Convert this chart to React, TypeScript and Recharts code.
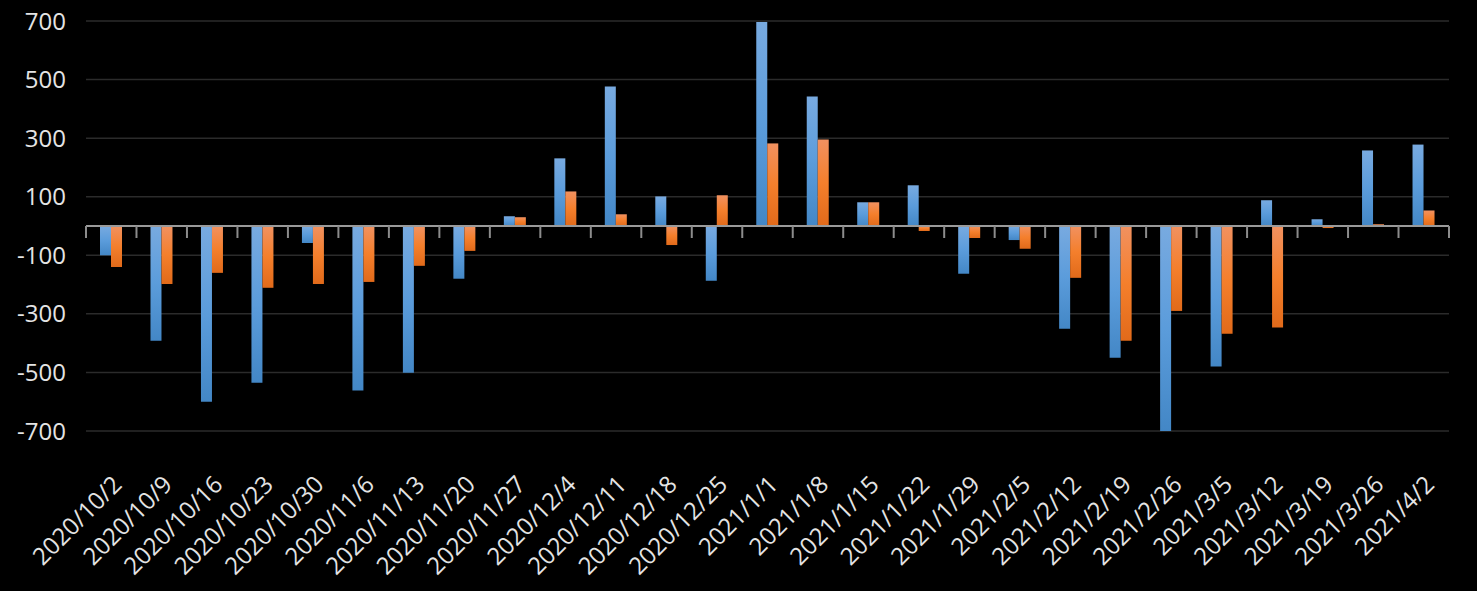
import React from "react";
import { BarChart, Bar, XAxis, YAxis, CartesianGrid, ReferenceLine } from "recharts";

const categories = [
  "2020/10/2", "2020/10/9", "2020/10/16", "2020/10/23", "2020/10/30", "2020/11/6", "2020/11/13",
  "2020/11/20", "2020/11/27", "2020/12/4", "2020/12/11", "2020/12/18", "2020/12/25", "2021/1/1",
  "2021/1/8", "2021/1/15", "2021/1/22", "2021/1/29", "2021/2/5", "2021/2/12", "2021/2/19",
  "2021/2/26", "2021/3/5", "2021/3/12", "2021/3/19", "2021/3/26", "2021/4/2",
];

const blueValues = [
  -100, -392, -600, -535, -58, -562, -501, -180, 33, 231, 476, 101, -187, 697,
  442, 81, 139, -163, -48, -351, -450, -700, -480, 88, 23, 258, 278,
];

const orangeValues = [
  -140, -198, -160, -211, -198, -191, -136, -85, 30, 118, 40, -65, 105, 282,
  295, 81, -17, -41, -78, -177, -392, -290, -368, -347, -7, 6, 53,
];

const yTicks = [-700, -500, -300, -100, 100, 300, 500, 700];

const data = categories.map((name, i) => ({
  name,
  blue: blueValues[i],
  orange: orangeValues[i],
}));

const labelColor = "#e4e4e4";

// rotated date labels, anchored by their end just under the category
const AngledTick = ({ x, y, payload }: any) => {
  const ax = x + 12;
  const ay = y + 55;
  return (
    <text
      x={ax}
      y={ay}
      textAnchor="end"
      fill={labelColor}
      fontSize={24}
      transform={`rotate(-45, ${ax}, ${ay})`}
    >
      {payload.value}
    </text>
  );
};

// zero line with small tick marks at category boundaries
const ZeroAxis = (props: any) => {
  const { x1, x2, y1 } = props;
  const n = categories.length;
  const step = (x2 - x1) / n;
  const marks = [];
  for (let k = 0; k <= n; k++) {
    const tx = x1 + k * step;
    marks.push(<line key={k} x1={tx} x2={tx} y1={y1} y2={y1 + 12} stroke="#8c8c8c" strokeWidth={2} />);
  }
  return (
    <g>
      <line x1={x1} x2={x2} y1={y1} y2={y1} stroke="#9a9a9a" strokeWidth={2} />
      {marks}
    </g>
  );
};

export default function App() {
  return (
    <div style={{ position: "fixed", left: 0, top: 0, width: 1477, height: 591, background: "#000" }}>
      <BarChart
        width={1477}
        height={591}
        data={data}
        margin={{ top: 21, right: 28, bottom: 0, left: 0 }}
        barGap={0}
        barSize={11}
        style={{ fontFamily: "'Open Sans', sans-serif" }}
      >
        <defs>
          <linearGradient id="blueFill" x1="0" y1="0" x2="0" y2="1">
            <stop offset="0%" stopColor="#78aae0" />
            <stop offset="50%" stopColor="#5b9cdb" />
            <stop offset="100%" stopColor="#4387c6" />
          </linearGradient>
          <linearGradient id="orangeFill" x1="0" y1="0" x2="0" y2="1">
            <stop offset="0%" stopColor="#f19160" />
            <stop offset="50%" stopColor="#f47f2c" />
            <stop offset="100%" stopColor="#e16a1a" />
          </linearGradient>
        </defs>
        <CartesianGrid vertical={false} stroke="#2b2b2b" strokeWidth={1.5} />
        <XAxis
          dataKey="name"
          interval={0}
          height={160}
          axisLine={false}
          tickLine={false}
          tickSize={0}
          tickMargin={0}
          tick={<AngledTick />}
        />
        <YAxis
          width={86}
          domain={[-700, 700]}
          ticks={yTicks}
          axisLine={false}
          tickLine={false}
          tickSize={0}
          tickMargin={20}
          tick={{ fill: labelColor, fontSize: 24 }}
        />
        <Bar dataKey="blue" fill="url(#blueFill)" isAnimationActive={false} />
        <Bar dataKey="orange" fill="url(#orangeFill)" isAnimationActive={false} />
        <ReferenceLine y={0} shape={ZeroAxis} />
      </BarChart>
    </div>
  );
}
